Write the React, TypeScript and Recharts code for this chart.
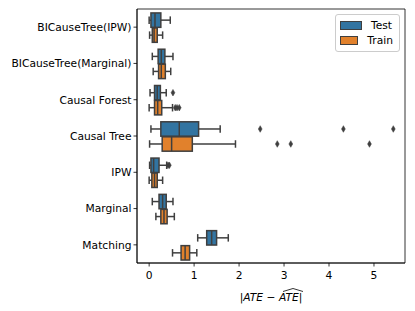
import React from 'react';
import { ComposedChart, Bar, XAxis, YAxis, Legend, ReferenceArea } from 'recharts';

const categories = ['BICauseTree(IPW)', 'BICauseTree(Marginal)', 'Causal Forest', 'Causal Tree', 'IPW', 'Marginal', 'Matching'];

const testMin = [0.0, 0.07, 0.02, 0.04, 0.01, 0.07, 1.08];
const testQ1 = [0.04, 0.2, 0.12, 0.26, 0.04, 0.22, 1.28];
const testMed = [0.13, 0.27, 0.18, 0.67, 0.1, 0.3, 1.39];
const testQ3 = [0.26, 0.35, 0.25, 1.1, 0.22, 0.38, 1.5];
const testMax = [0.47, 0.53, 0.38, 1.58, 0.39, 0.53, 1.76];
const testOutliers: number[][] = [[], [], [0.53], [2.47, 4.32, 5.43], [0.42, 0.45], [], []];

const trainMin = [0.01, 0.09, 0.0, 0.01, 0.0, 0.15, 0.52];
const trainQ1 = [0.07, 0.21, 0.12, 0.29, 0.06, 0.26, 0.71];
const trainMed = [0.11, 0.27, 0.19, 0.5, 0.12, 0.33, 0.8];
const trainQ3 = [0.18, 0.36, 0.28, 0.96, 0.18, 0.4, 0.9];
const trainMax = [0.3, 0.48, 0.52, 1.92, 0.3, 0.56, 1.06];
const trainOutliers: number[][] = [[], [], [0.58, 0.62, 0.67], [2.85, 3.15, 4.9], [], [], []];

const xTicks = [0, 1, 2, 3, 4, 5];
const xDomain = [-0.27, 5.69];
const seriesNames = ['Test', 'Train'];

const TEST_COLOR = '#3274a1';
const TRAIN_COLOR = '#e1812c';
const EDGE = '#3f3f3f';
const FONT = 'DejaVu Sans, sans-serif';
const FS = 10.7;

const data = categories.map((name, i) => ({
  name,
  test: { min: testMin[i], q1: testQ1[i], med: testMed[i], q3: testQ3[i], max: testMax[i], out: testOutliers[i] },
  train: { min: trainMin[i], q1: trainQ1[i], med: trainMed[i], q3: trainQ3[i], max: trainMax[i], out: trainOutliers[i] },
}));

const makeBox = (key: 'test' | 'train', fill: string) => (props: any) => {
  const { x, y, width, height, payload } = props;
  const s = payload[key];
  const k = width / (s.max - s.min);
  const px = (v: number) => x + (v - s.min) * k;
  const top = y + 0.3;
  const bot = y + height - 0.3;
  const cy = y + height / 2;
  const cap = height / 4;
  const q1 = px(s.q1), q3 = px(s.q3), md = px(s.med);
  return (
    <g>
      <line x1={px(s.min)} x2={q1} y1={cy} y2={cy} stroke={EDGE} strokeWidth={1.5} />
      <line x1={q3} x2={px(s.max)} y1={cy} y2={cy} stroke={EDGE} strokeWidth={1.5} />
      <line x1={px(s.min)} x2={px(s.min)} y1={cy - cap} y2={cy + cap} stroke={EDGE} strokeWidth={1.5} />
      <line x1={px(s.max)} x2={px(s.max)} y1={cy - cap} y2={cy + cap} stroke={EDGE} strokeWidth={1.5} />
      <rect x={q1} y={top} width={q3 - q1} height={bot - top} fill={fill} stroke={EDGE} strokeWidth={1.5} />
      <line x1={md} x2={md} y1={top} y2={bot} stroke={EDGE} strokeWidth={1.5} />
      {s.out.map((v: number, j: number) => {
        const ox = px(v);
        return (
          <polygon
            key={j}
            points={`${ox},${cy - 3.3} ${ox + 1.9},${cy} ${ox},${cy + 3.3} ${ox - 1.9},${cy}`}
            fill={EDGE}
            stroke={EDGE}
            strokeWidth={0.5}
          />
        );
      })}
    </g>
  );
};

const XLabel = (props: any) => {
  const vb = props.viewBox || {};
  const cx = vb.x + vb.width / 2;
  const y = 301;
  return (
    <g>
      <text x={cx} y={y} textAnchor="middle" fontFamily={FONT} fontSize={FS} fill="#000">
        <tspan>|</tspan>
        <tspan fontStyle="italic">ATE</tspan>
        <tspan> − </tspan>
        <tspan fontStyle="italic">ATE</tspan>
        <tspan>|</tspan>
      </text>
      <path d={`M ${cx + 12} ${y - 9.5} L ${cx + 22} ${y - 12.5} L ${cx + 32} ${y - 9.5}`} fill="none" stroke="#000" strokeWidth={0.8} />
    </g>
  );
};

const LegendContent = () => (
  <div
    style={{
      position: 'absolute',
      left: 335,
      top: 14,
      border: '1px solid #cccccc',
      borderRadius: 3,
      background: 'rgba(255,255,255,0.8)',
      padding: '3px 6px 3px 4px',
      fontFamily: FONT,
      fontSize: FS,
      lineHeight: '15px',
      width: 53,
    }}
  >
    {seriesNames.map((n, i) => (
      <div key={n} style={{ display: 'flex', alignItems: 'center' }}>
        <span
          style={{
            display: 'inline-block',
            width: 20,
            height: 7,
            background: i === 0 ? TEST_COLOR : TRAIN_COLOR,
            border: `0.5px solid ${EDGE}`,
            marginRight: 9,
          }}
        />
        <span>{n}</span>
      </div>
    ))}
  </div>
);

export default function App() {
  return (
    <div style={{ position: 'absolute', left: 0, top: 0, background: '#fff' }}>
      <ComposedChart
        width={415}
        height={311}
        data={data}
        layout="vertical"
        margin={{ top: 9, right: 10, left: 0, bottom: 0 }}
        barCategoryGap="10%"
        barGap={0}
      >
        <XAxis
          type="number"
          domain={xDomain}
          ticks={xTicks}
          allowDataOverflow
          height={48}
          tickSize={3.5}
          tickMargin={5}
          tick={{ fontSize: FS, fill: '#000', fontFamily: FONT }}
          tickLine={{ stroke: '#000', strokeWidth: 0.8 }}
          axisLine={{ stroke: '#000', strokeWidth: 0.8 }}
          label={<XLabel />}
        />
        <YAxis
          type="category"
          dataKey="name"
          width={137}
          tickSize={3.5}
          tickMargin={2}
          interval={0}
          tick={{ fontSize: FS, fill: '#000', fontFamily: FONT }}
          tickLine={{ stroke: '#000', strokeWidth: 0.8 }}
          axisLine={{ stroke: '#000', strokeWidth: 0.8 }}
        />
        <ReferenceArea x1={xDomain[0]} x2={xDomain[1]} fill="none" stroke="#000" strokeWidth={0.8} ifOverflow="visible" />
        <Legend
          content={<LegendContent />}
          wrapperStyle={{ position: 'absolute', left: 0, top: 0, width: 0, height: 0 }}
        />
        <Bar
          dataKey={(d: any) => [d.test.min, d.test.max]}
          name="Test"
          fill={TEST_COLOR}
          isAnimationActive={false}
          shape={makeBox('test', TEST_COLOR)}
        />
        <Bar
          dataKey={(d: any) => [d.train.min, d.train.max]}
          name="Train"
          fill={TRAIN_COLOR}
          isAnimationActive={false}
          shape={makeBox('train', TRAIN_COLOR)}
        />
      </ComposedChart>
    </div>
  );
}
